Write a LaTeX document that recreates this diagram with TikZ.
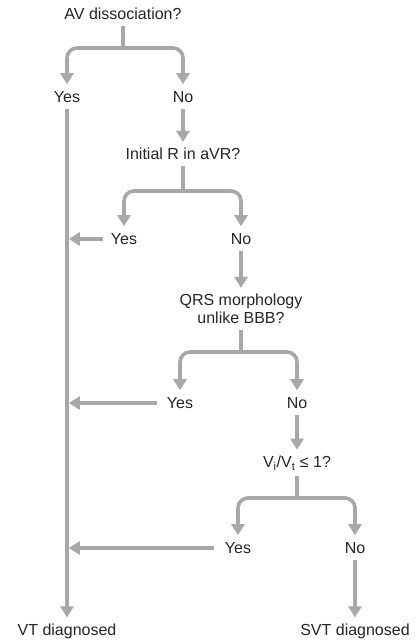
\documentclass[tikz,border=0pt]{standalone}
\usepackage{fontspec}
\setmainfont{Liberation Sans}
\usetikzlibrary{arrows.meta}
\definecolor{ln}{HTML}{A8A8A8}
\definecolor{txt}{HTML}{262626}
\begin{document}
\begin{tikzpicture}[x=1pt,y=-1pt,
  lbl/.style={font=\fontsize{16}{18}\selectfont, text=txt, inner sep=2pt, align=center},
  conn/.style={draw=ln, line width=3.6pt, rounded corners=10pt, -{Triangle[width=13pt,length=11pt]}},
  plain/.style={draw=ln, line width=3.6pt}]
\useasboundingbox (0,0) rectangle (417,644);
\fill[white] (0,0) rectangle (417,644);
% nodes
\node[lbl] (q1) at (123,14) {AV dissociation?};
\node[lbl] (y1) at (67,97) {Yes};
\node[lbl] (n1) at (183,97) {No};
\node[lbl] (q2) at (183,154) {Initial R in aVR?};
\node[lbl] (y2) at (124,239) {Yes};
\node[lbl] (n2) at (241,239) {No};
\node[lbl] (q3) at (241,309) {QRS morphology\\unlike BBB?};
\node[lbl] (y3) at (180,403) {Yes};
\node[lbl] (n3) at (297,403) {No};
\node[lbl] (q4) at (297,463) {V\textsubscript{i}/V\textsubscript{t} ≤ 1?};
\node[lbl] (y4) at (238,548) {Yes};
\node[lbl] (n4) at (355,548) {No};
\node[lbl] (vt) at (67,631) {VT diagnosed};
\node[lbl] (svt) at (355,631) {SVT diagnosed};
% fork coordinates
\coordinate (f1) at (123,48);
\coordinate (f2) at (183,191);
\coordinate (f3) at (241,352);
\coordinate (f4) at (297,498);
% forks
\foreach \q/\f/\a/\b in {q1/f1/y1/n1, q2/f2/y2/n2, q3/f3/y3/n3, q4/f4/y4/n4}{
  \draw[plain, shorten <=4pt] (\q) -- (\f);
  \draw[conn, shorten >=5pt] (\f) -| (\a);
  \draw[conn, shorten >=5pt] (\f) -| (\b);
}
% No -> next question
\draw[conn, shorten <=4pt, shorten >=4pt] (n1) -- (q2);
\draw[conn, shorten <=4pt, shorten >=4pt] (n2) -- (q3);
\draw[conn, shorten <=4pt, shorten >=4pt] (n3) -- (q4);
\draw[conn, shorten <=4pt, shorten >=4pt] (n4) -- (svt);
% VT line
\draw[conn, shorten <=4pt, shorten >=4pt] (y1) -- (vt);
% Yes -> VT line
\draw[conn, shorten <=6pt, shorten >=1.8pt] (y2) -- (y2 -| y1);
\draw[conn, shorten <=8pt, shorten >=1.8pt] (y3) -- (y3 -| y1);
\draw[conn, shorten <=9pt, shorten >=1.8pt] (y4) -- (y4 -| y1);
\end{tikzpicture}
\end{document}
